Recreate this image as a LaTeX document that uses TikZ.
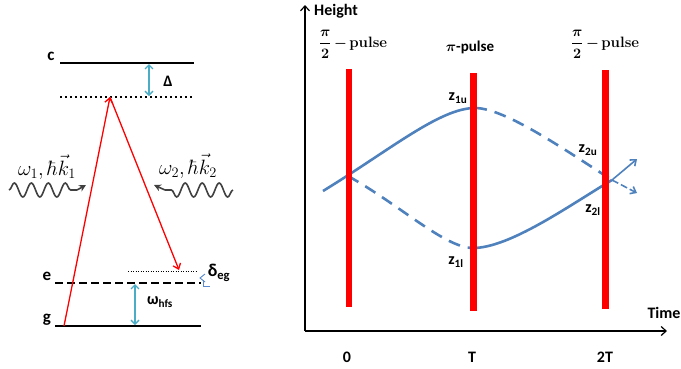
\documentclass[tikz,border=0pt]{standalone}
\usepackage{amsmath}
\usepackage{bm}
\usepackage{fontspec}
\setsansfont{Carlito}
\usetikzlibrary{arrows.meta,decorations.pathmorphing}
\definecolor{cyanc}{HTML}{4BACC6}
\definecolor{trajc}{HTML}{4F81BD}
\definecolor{wavec}{HTML}{404040}
\definecolor{markc}{HTML}{5B8BD0}
\begin{document}
\begin{tikzpicture}[x=1pt,y=-1pt,
 lvl/.style={line width=2.4pt},
 vlvl/.style={line width=2.4pt,dash pattern=on 2.4pt off 2.6pt},
 elvl/.style={line width=2.4pt,dash pattern=on 8pt off 4pt},
 thindot/.style={line width=1pt,dash pattern=on 1pt off 1.5pt},
 cyanarr/.style={cyanc,line width=1.4pt,{Straight Barb[length=4pt,width=8pt]}-{Straight Barb[length=4pt,width=8pt]}},
 redarr/.style={red,line width=1.3pt,-{Straight Barb[length=5pt,width=8pt]}},
 wave/.style={wavec,line width=1.6pt,decorate,decoration={snake,amplitude=7pt,segment length=17pt}},
 wavetip/.style={wavec,line width=1.6pt,-{Stealth[length=7pt,width=7pt]}},
 lab/.style={font=\sffamily\bfseries\fontsize{16}{16}\selectfont,inner sep=0pt},
 traj/.style={trajc,line width=2.6pt},
 trajd/.style={traj,dash pattern=on 12pt off 8pt},
 pulsebar/.style={red,line width=6.5pt},
 axis/.style={line width=1.2pt,-{Straight Barb[length=5pt,width=9pt]}},
 outarr/.style={trajc,line width=1.6pt,-{Straight Barb[length=5pt,width=8pt]}}
]
\useasboundingbox (0,0) rectangle (681,368);

% ---------- left: level scheme ----------
\coordinate (cL) at (60,63);  \coordinate (cR) at (194,63);
\coordinate (vL) at (60,97);  \coordinate (vR) at (194,97);
\coordinate (eL) at (55,283); \coordinate (eR) at (201,283);
\coordinate (gL) at (55,326); \coordinate (gR) at (201,326);
\coordinate (dL) at (128,271); \coordinate (dR) at (197,271);
\draw[lvl] (cL) -- (cR);
\draw[vlvl] (vL) -- (vR);
\draw[elvl] (eL) -- (eR);
\draw[lvl] (gL) -- (gR);
\draw[thindot] (dL) -- (dR);

\node[lab,font=\sffamily\bfseries\fontsize{17}{17}\selectfont] (clab) at (51,56) {c};
\node[lab,font=\sffamily\bfseries\fontsize{17}{17}\selectfont] (elab) at (47,276) {e};
\node[lab,font=\sffamily\bfseries\fontsize{17}{17}\selectfont] (glab) at (47,320) {g};

\coordinate (DT) at (149,64); \coordinate (DB) at (149,96);
\draw[cyanarr] (DT) -- (DB);
\node[lab] (Dlab) at (168,81) {Δ};

\coordinate (hT) at (135,284); \coordinate (hB) at (135,325);
\draw[cyanarr] (hT) -- (hB);
\node[lab] (hlab) at (160,302) {ω$_{\text{hfs}}$};

\coordinate (gstart) at (64,326); \coordinate (apex) at (110,97); \coordinate (dend) at (179,270);
\draw[redarr] (gstart) -- (apex);
\draw[redarr] (apex) -- (dend);

\node[lab,font=\sffamily\bfseries\fontsize{18}{18}\selectfont] (delab) at (219,273) {δ$_{\text{eg}}$};
\draw[markc,line width=0.9pt] (205,274) -- (200,278) -- (205,282);
\draw[markc,line width=0.9pt] (203,280) -- (203,286) -- (210,286);

\coordinate (w1a) at (9,190); \coordinate (w1m) at (77,190); \coordinate (w1tip) at (86,185);
\draw[wave] (w1a) -- (w1m);
\draw[wavetip] (w1m) -- (w1tip);
\coordinate (w2a) at (233,190); \coordinate (w2m) at (165,190); \coordinate (w2tip) at (154,185);
\draw[wave] (w2a) -- (w2m);
\draw[wavetip] (w2m) -- (w2tip);
\node (w1lab) at (47,167) {\fontsize{20}{20}\selectfont$\omega_1,\hbar\vec{k}_1$};
\node (w2lab) at (188,166) {\fontsize{20}{20}\selectfont$\omega_2,\hbar\vec{k}_2$};

% ---------- right: interferometer ----------
\coordinate (O) at (305,331); \coordinate (Ytop) at (305,5); \coordinate (Xend) at (667,331);
\draw[axis] (O) -- (Ytop);
\draw[axis] (O) -- (Xend);
\node[lab] (hgt) at (336,11) {Height};
\node[lab] (tim) at (664,313) {Time};
\node[lab] (t0) at (347,357) {0};
\node[lab] (t1) at (472,357) {T};
\node[lab] (t2) at (605,357) {2T};

\coordinate (s0) at (323,191); \coordinate (z1u) at (475,108);
\coordinate (p1) at (348,176); \coordinate (z1l) at (473,248);
\coordinate (x2) at (612,180);
\coordinate (o1) at (637,159); \coordinate (o2) at (637,193);
\draw[traj] (s0) .. controls (390,150) and (440,108) .. (z1u);
\draw[trajd] (z1u) .. controls (505,108) and (565,150) .. (x2);
\draw[trajd] (p1) .. controls (400,205) and (445,248) .. (z1l);
\draw[traj] (z1l) .. controls (510,248) and (570,205) .. (x2);
\draw[outarr] (x2) -- (o1);
\draw[outarr,dash pattern=on 7pt off 3pt] (x2) -- (o2);

\coordinate (b1t) at (349,69);    \coordinate (b1b) at (349,307);
\coordinate (b2t) at (473.5,73);  \coordinate (b2b) at (473.5,311);
\coordinate (b3t) at (605.5,70);  \coordinate (b3b) at (605.5,309);
\draw[pulsebar] (b1t) -- (b1b);
\draw[pulsebar] (b2t) -- (b2b);
\draw[pulsebar] (b3t) -- (b3b);

\node (pl1) at (353,44) {\fontsize{15}{15}\selectfont$\boldsymbol{\dfrac{\pi}{2}}\,\boldsymbol{-}\,$\textbf{pulse}};
\node (pl2) at (470,47) {\fontsize{15}{15}\selectfont$\boldsymbol{\pi}$\sffamily\bfseries -pulse};
\node (pl3) at (605,44) {\fontsize{15}{15}\selectfont$\boldsymbol{\dfrac{\pi}{2}}\,\boldsymbol{-}\,$\textbf{pulse}};

\node[lab] (z1ulab) at (458,98) {z$_{\text{1u}}$};
\node[lab] (z1llab) at (456,262) {z$_{\text{1l}}$};
\node[lab] (z2ulab) at (588,150) {z$_{\text{2u}}$};
\node[lab] (z2llab) at (593,210) {z$_{\text{2l}}$};
\end{tikzpicture}
\end{document}
